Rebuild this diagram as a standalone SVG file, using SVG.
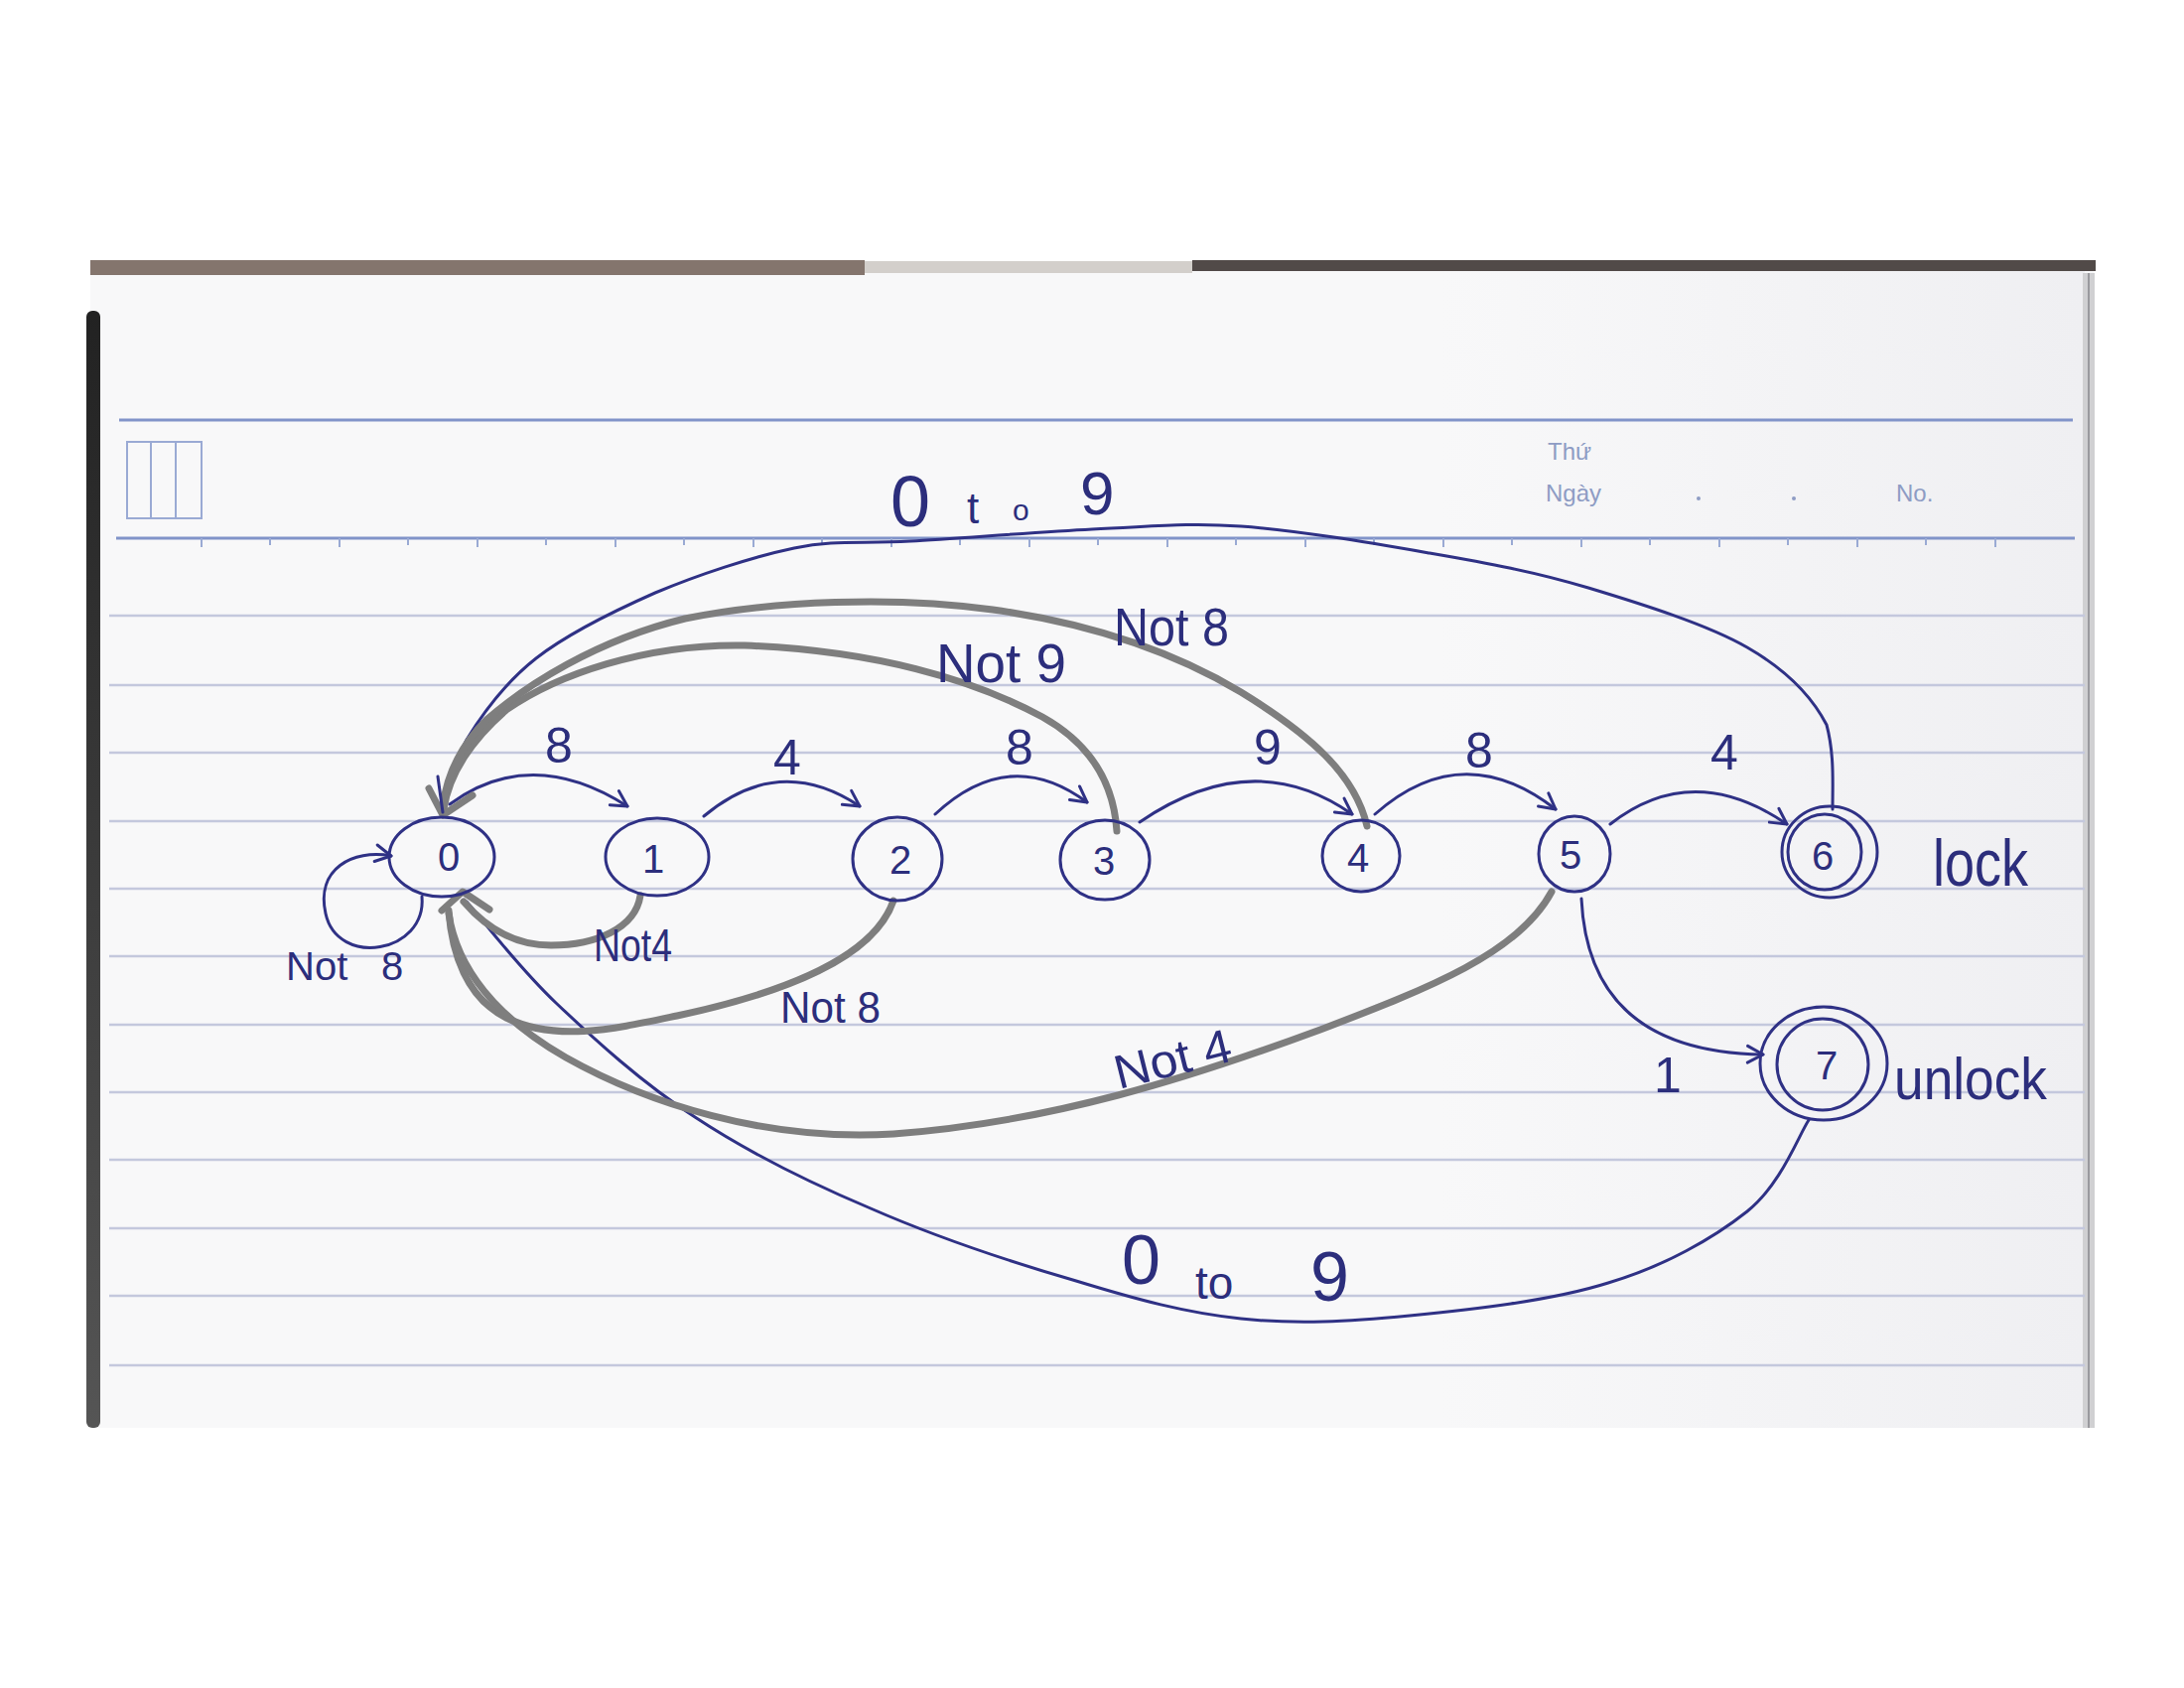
<svg xmlns="http://www.w3.org/2000/svg" width="2200" height="1700" viewBox="0 0 2200 1700">
<style>
.ink{fill:none;stroke:#2f3185;stroke-width:3;stroke-linecap:round;stroke-linejoin:round}
.pencil{fill:none;stroke:#7e7e7e;stroke-width:7;stroke-linecap:round;stroke-linejoin:round}
.node{fill:none;stroke:#2f3185;stroke-width:3}
.hw{font-family:"Liberation Sans","DejaVu Sans",sans-serif;fill:#2c2e7c}
.num{font-family:"Liberation Sans","DejaVu Sans",sans-serif;fill:#2c2e7c;font-size:40px;text-anchor:middle}
.lbl{font-family:"Liberation Sans","DejaVu Sans",sans-serif;fill:#2c2e7c;font-size:50px;text-anchor:middle}
.rule{stroke:#c4c8dd;stroke-width:2.5}
.head{stroke:#8194c9;stroke-width:3}
.tick{stroke:#9aaad4;stroke-width:2}
.print{font-family:"Liberation Sans","DejaVu Sans",sans-serif;fill:#8e9cc4;font-size:24px}
</style>
<defs>
<marker id="ah" markerUnits="userSpaceOnUse" markerWidth="24" markerHeight="24" viewBox="0 0 20 20" refX="16" refY="10" orient="auto">
<path d="M3,3 L16,10 L3,17" fill="none" stroke="#2f3185" stroke-width="2.5" stroke-linecap="round" stroke-linejoin="round"/>
</marker>
<linearGradient id="rightShade" x1="0" y1="0" x2="1" y2="0">
<stop offset="0" stop-color="#f8f8f9"/>
<stop offset="1" stop-color="#efeff2"/>
</linearGradient>
<linearGradient id="leftStrip" x1="0" y1="0" x2="0" y2="1">
<stop offset="0" stop-color="#222"/>
<stop offset="1" stop-color="#555"/>
</linearGradient>
</defs>

<rect x="0" y="0" width="2200" height="1700" fill="#ffffff"/>

<g id="paper">
<rect x="91" y="270" width="2018" height="1168" fill="#f8f8f9"/>
<rect x="1450" y="272" width="650" height="1166" fill="url(#rightShade)"/>
<rect x="91" y="262" width="780" height="15" fill="#84756d"/>
<rect x="871" y="263" width="330" height="12" fill="#d3cfcb"/>
<rect x="1201" y="262" width="910" height="11" fill="#514a48"/>
<rect x="87" y="313" width="14" height="1125" rx="6" fill="url(#leftStrip)"/>
<rect x="2098" y="275" width="12" height="1163" fill="#d0d0d2"/>
<line x1="2104" y1="275" x2="2104" y2="1438" stroke="#9a9a9e" stroke-width="2"/>
<line class="head" x1="120" y1="423" x2="2088" y2="423"/>
<line class="head" x1="117" y1="542" x2="2090" y2="542"/>
<g id="ticks">
<line class="tick" x1="203" y1="542" x2="203" y2="551"/><line class="tick" x1="272" y1="542" x2="272" y2="549"/>
<line class="tick" x1="342" y1="542" x2="342" y2="551"/><line class="tick" x1="411" y1="542" x2="411" y2="549"/>
<line class="tick" x1="481" y1="542" x2="481" y2="551"/><line class="tick" x1="550" y1="542" x2="550" y2="549"/>
<line class="tick" x1="620" y1="542" x2="620" y2="551"/><line class="tick" x1="689" y1="542" x2="689" y2="549"/>
<line class="tick" x1="759" y1="542" x2="759" y2="551"/><line class="tick" x1="828" y1="542" x2="828" y2="549"/>
<line class="tick" x1="898" y1="542" x2="898" y2="551"/><line class="tick" x1="967" y1="542" x2="967" y2="549"/>
<line class="tick" x1="1037" y1="542" x2="1037" y2="551"/><line class="tick" x1="1106" y1="542" x2="1106" y2="549"/>
<line class="tick" x1="1176" y1="542" x2="1176" y2="551"/><line class="tick" x1="1245" y1="542" x2="1245" y2="549"/>
<line class="tick" x1="1315" y1="542" x2="1315" y2="551"/><line class="tick" x1="1384" y1="542" x2="1384" y2="549"/>
<line class="tick" x1="1454" y1="542" x2="1454" y2="551"/><line class="tick" x1="1523" y1="542" x2="1523" y2="549"/>
<line class="tick" x1="1593" y1="542" x2="1593" y2="551"/><line class="tick" x1="1662" y1="542" x2="1662" y2="549"/>
<line class="tick" x1="1732" y1="542" x2="1732" y2="551"/><line class="tick" x1="1801" y1="542" x2="1801" y2="549"/>
<line class="tick" x1="1871" y1="542" x2="1871" y2="551"/><line class="tick" x1="1940" y1="542" x2="1940" y2="549"/>
<line class="tick" x1="2010" y1="542" x2="2010" y2="551"/>
</g>
<rect x="128" y="445" width="75" height="77" fill="none" stroke="#9aaad4" stroke-width="2"/>
<line x1="152" y1="445" x2="152" y2="522" stroke="#9aaad4" stroke-width="2"/>
<line x1="177" y1="445" x2="177" y2="522" stroke="#9aaad4" stroke-width="2"/>
<text class="print" x="1559" y="463">Thứ</text>
<text class="print" x="1557" y="505">Ngày</text>
<circle cx="1711" cy="502" r="2" fill="#8e9cc4"/>
<circle cx="1807" cy="502" r="2" fill="#8e9cc4"/>
<text class="print" x="1910" y="505">No.</text>
<g id="rules">
<line class="rule" x1="110" y1="620" x2="2100" y2="620"/>
<line class="rule" x1="110" y1="690" x2="2100" y2="690"/>
<line class="rule" x1="110" y1="758" x2="2100" y2="758"/>
<line class="rule" x1="110" y1="827" x2="2100" y2="827"/>
<line class="rule" x1="110" y1="895" x2="2100" y2="895"/>
<line class="rule" x1="110" y1="963" x2="2100" y2="963"/>
<line class="rule" x1="110" y1="1032" x2="2100" y2="1032"/>
<line class="rule" x1="110" y1="1100" x2="2100" y2="1100"/>
<line class="rule" x1="110" y1="1168" x2="2100" y2="1168"/>
<line class="rule" x1="110" y1="1237" x2="2100" y2="1237"/>
<line class="rule" x1="110" y1="1305" x2="2100" y2="1305"/>
<line class="rule" x1="110" y1="1375" x2="2100" y2="1375"/>
</g>
</g>

<g id="connectors">
<path id="e01" class="ink" d="M453,810 Q535,750 632,812" marker-end="url(#ah)"/>
<path id="e12" class="ink" d="M709,822 Q785,758 866,812" marker-end="url(#ah)"/>
<path id="e23" class="ink" d="M942,820 Q1017,750 1095,808" marker-end="url(#ah)"/>
<path id="e34" class="ink" d="M1148,828 Q1262,750 1362,820" marker-end="url(#ah)"/>
<path id="e45" class="ink" d="M1385,820 Q1473,742 1567,815" marker-end="url(#ah)"/>
<path id="e56" class="ink" d="M1622,830 Q1705,765 1800,830" marker-end="url(#ah)"/>
<path id="e00" class="ink" d="M425,903 C430,960 340,975 328,920 C318,875 355,855 394,862" marker-end="url(#ah)"/>
<path id="e57" class="ink" d="M1593,905 C1597,990 1640,1060 1776,1062" marker-end="url(#ah)"/>
<path id="e60" class="ink" d="M1846,815 C1846,790 1848,760 1840,730 C1826,703 1800,675 1760,652 C1720,629 1653,608 1600,592 C1547,576 1498,567 1440,557 C1382,547 1307,534 1250,530 C1193,526 1156,531 1100,533 C1045,536 967,542 917,545 C867,548 843,543 800,552 C757,561 703,579 660,597 C617,616 572,638 540,663 C508,688 486,719 470,745 C455,771 451,806 447,818"/>
<path id="e70" class="ink" d="M1822,1128 C1812,1143 1794,1193 1760,1220 C1726,1247 1677,1275 1620,1292 C1563,1310 1482,1319 1420,1325 C1358,1331 1306,1334 1250,1328 C1194,1322 1146,1309 1084,1290 C1022,1272 941,1245 877,1217 C813,1190 753,1160 700,1125 C647,1091 598,1046 560,1010 C522,974 485,925 470,908"/>
<path id="g10" class="pencil" d="M645,902 C640,935 600,952 555,952 C520,952 490,935 467,908"/>
<path id="g20" class="pencil" d="M900,907 C880,965 790,1000 682,1023 C620,1036 560,1050 510,1025 C470,1005 455,960 452,917"/>
<path id="g50" class="pencil" d="M1563,898 C1530,960 1440,995 1330,1037 C1200,1085 1060,1130 900,1142 C770,1150 650,1110 570,1065 C500,1025 460,975 452,920"/>
<path id="g30" class="pencil" d="M1125,837 C1122,790 1100,750 1050,722 C980,684 880,655 750,650 C650,648 560,680 510,715 C475,745 452,780 447,815"/>
<path id="g40" class="pencil" d="M1377,832 C1365,780 1320,740 1250,697 C1180,655 1100,628 1000,614 C900,600 780,605 690,623 C600,645 530,690 490,725 C465,750 450,780 446,812"/>
<polyline class="pencil" points="432,794 446,821 476,801"/>
<line class="ink" x1="441" y1="782" x2="446" y2="818"/>
<polyline class="pencil" points="445,917 466,898 493,916"/>
</g>

<g id="edge-labels">
<text class="lbl" x="563" y="768">8</text>
<text class="lbl" x="793" y="780">4</text>
<text class="lbl" x="1027" y="770">8</text>
<text class="lbl" x="1277" y="770">9</text>
<text class="lbl" x="1490" y="773" font-size="56">8</text>
<text class="lbl" x="1737" y="775">4</text>
<text class="lbl" x="1680" y="1100" font-size="52">1</text>
<text class="hw" x="943" y="687" font-size="56" textLength="131" lengthAdjust="spacingAndGlyphs">Not 9</text>
<text class="hw" x="1122" y="650" font-size="54" textLength="116" lengthAdjust="spacingAndGlyphs">Not 8</text>
<text class="hw" x="288" y="987" font-size="40"><tspan>Not </tspan><tspan x="384">8</tspan></text>
<text class="hw" x="598" y="968" font-size="46" textLength="79" lengthAdjust="spacingAndGlyphs">Not4</text>
<text class="hw" x="786" y="1030" font-size="44" textLength="101" lengthAdjust="spacingAndGlyphs">Not 8</text>
<text class="hw" x="1127" y="1097" font-size="48" textLength="120" lengthAdjust="spacingAndGlyphs" transform="rotate(-14 1127 1097)">Not 4</text>
<text class="hw" x="897" y="530"><tspan font-size="72">0 </tspan><tspan x="974" y="527" font-size="44">t</tspan><tspan x="1020" y="524" font-size="30">o </tspan><tspan x="1088" y="518" font-size="62">9</tspan></text>
<text class="hw" x="1130" y="1293"><tspan font-size="70">0 </tspan><tspan x="1204" y="1308" font-size="46">to </tspan><tspan x="1320" y="1310" font-size="70">9</tspan></text>
</g>

<g id="node-0"><ellipse class="node" cx="445" cy="863" rx="53" ry="40"/><text class="num" x="452" y="877">0</text></g>
<g id="node-1"><ellipse class="node" cx="662" cy="863" rx="52" ry="39"/><text class="num" x="658" y="879">1</text></g>
<g id="node-2"><ellipse class="node" cx="904" cy="865" rx="45" ry="42"/><text class="num" x="907" y="880">2</text></g>
<g id="node-3"><ellipse class="node" cx="1113" cy="866" rx="45" ry="40"/><text class="num" x="1112" y="881">3</text></g>
<g id="node-4"><ellipse class="node" cx="1371" cy="862" rx="39" ry="36"/><text class="num" x="1368" y="878">4</text></g>
<g id="node-5"><ellipse class="node" cx="1586" cy="860" rx="36" ry="38"/><text class="num" x="1582" y="875">5</text></g>
<g id="node-6"><ellipse class="node" cx="1843" cy="858" rx="48" ry="46"/><ellipse class="node" cx="1838" cy="858" rx="37" ry="38"/><text class="num" x="1836" y="876">6</text><text class="hw" x="1947" y="892" font-size="66" textLength="96" lengthAdjust="spacingAndGlyphs">lock</text></g>
<g id="node-7"><ellipse class="node" cx="1837" cy="1071" rx="64" ry="57"/><ellipse class="node" cx="1836" cy="1072" rx="46" ry="46"/><text class="num" x="1840" y="1087">7</text><text class="hw" x="1908" y="1107" font-size="60" textLength="154" lengthAdjust="spacingAndGlyphs">unlock</text></g>
</svg>
